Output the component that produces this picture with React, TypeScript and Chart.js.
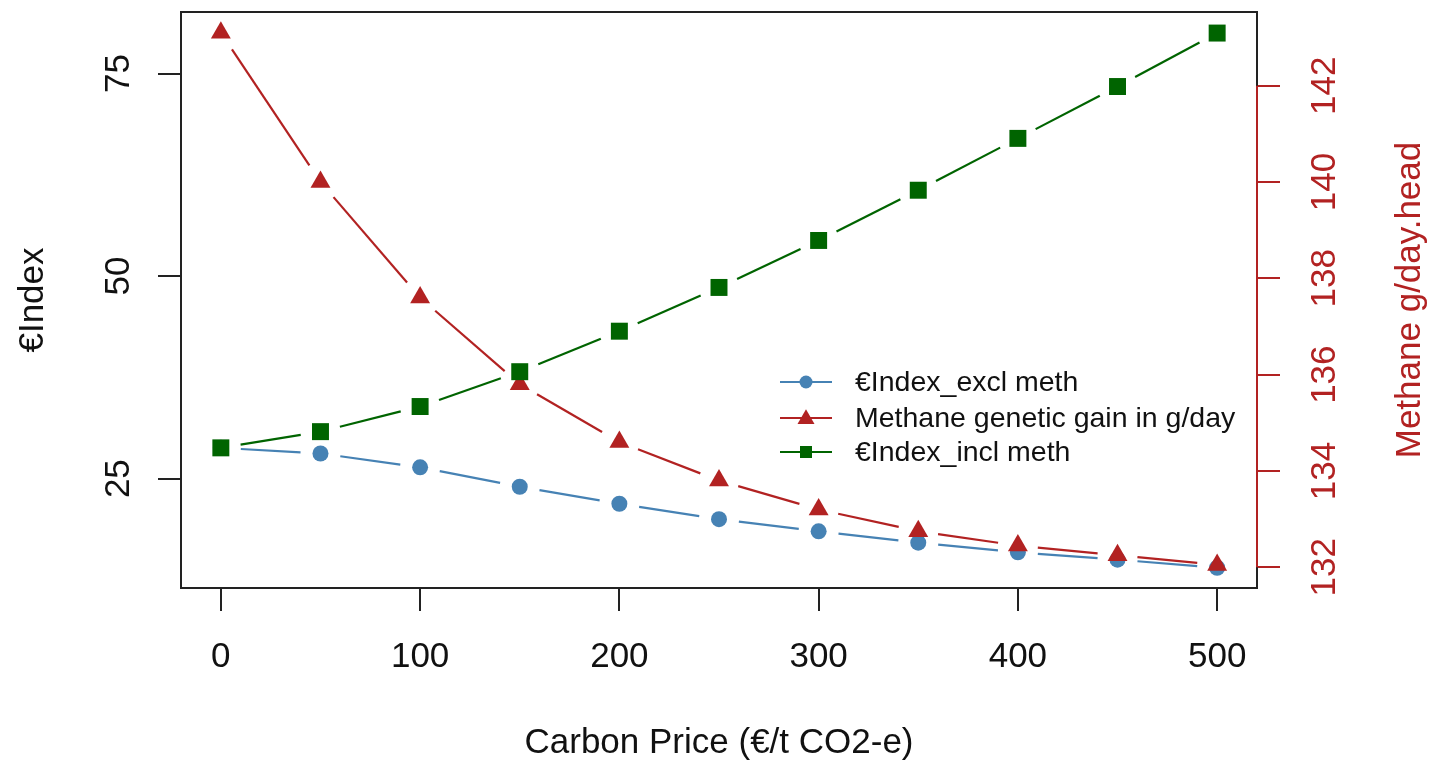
import React, { useEffect, useRef } from "react";
import { Chart, registerables } from "chart.js";

Chart.register(...registerables);

// ---- data ----
const carbonPrice = [0, 50, 100, 150, 200, 250, 300, 350, 400, 450, 500];
const indexExclMeth = [28.8, 28.1, 26.4, 24.0, 21.9, 20.0, 18.5, 17.1, 15.9, 15.0, 14.0];
const methaneGain = [143.1, 140.0, 137.6, 135.8, 134.6, 133.8, 133.2, 132.75, 132.45, 132.25, 132.05];
const indexInclMeth = [28.8, 30.8, 33.9, 38.2, 43.2, 48.6, 54.4, 60.6, 67.0, 73.4, 80.0];

const xTicks = [0, 100, 200, 300, 400, 500];
const leftTicks = [25, 50, 75];
const rightTicks = [132, 134, 136, 138, 140, 142];

const seriesLabels = ["€Index_excl meth", "Methane genetic gain in g/day", "€Index_incl meth"];
const xTitle = "Carbon Price (€/t CO2-e)";
const leftTitle = "€Index";
const rightTitle = "Methane g/day.head";

// ---- style ----
const FONT = "'Liberation Sans', Arial, sans-serif";
const BLUE = "#4682B4";
const RED = "#B22222";
const GREEN = "#006400";
const GAP = 20;

const gapDash = (ctx: any) => {
  const p0 = ctx.p0, p1 = ctx.p1;
  const L = Math.hypot(p1.x - p0.x, p1.y - p0.y);
  if (!isFinite(L)) return [];
  const seg = Math.max(L - 2 * GAP, 0);
  return [0, GAP, seg, L + 1000 + ctx.p0DataIndex * 0.001];
};

const pairs = (ys: number[]) => carbonPrice.map((x, i) => ({ x, y: ys[i] }));

function drawMarker(ctx: CanvasRenderingContext2D, style: string, x: number, y: number, s: number, color: string) {
  ctx.save();
  ctx.fillStyle = color;
  ctx.beginPath();
  if (style === "circle") {
    ctx.arc(x, y, s / 2, 0, Math.PI * 2);
  } else if (style === "rect") {
    ctx.rect(x - s / 2, y - s / 2, s, s);
  } else {
    const h = s * 0.866;
    ctx.moveTo(x, y - h * 0.6);
    ctx.lineTo(x + s / 2, y + h * 0.4);
    ctx.lineTo(x - s / 2, y + h * 0.4);
    ctx.closePath();
  }
  ctx.fill();
  ctx.restore();
}

const framePlugin = {
  id: "framePlugin",
  afterDraw(chart: any) {
    const { ctx, chartArea } = chart;
    const { left, right, top, bottom } = chartArea;
    ctx.save();
    ctx.strokeStyle = "#222";
    ctx.lineWidth = 2;
    ctx.strokeRect(left, top, right - left, bottom - top);
    const yR = chart.scales.y2;
    ctx.strokeStyle = RED;
    ctx.beginPath();
    ctx.moveTo(right, yR.getPixelForValue(rightTicks[0]));
    ctx.lineTo(right, yR.getPixelForValue(rightTicks[rightTicks.length - 1]));
    ctx.stroke();

    ctx.save();
    ctx.translate(1410, (top + bottom) / 2);
    ctx.rotate(-Math.PI / 2);
    ctx.fillStyle = RED;
    ctx.font = `35px ${FONT}`;
    ctx.textAlign = "center";
    ctx.textBaseline = "middle";
    ctx.fillText(rightTitle, 0, 0);
    ctx.restore();

    const styles = ["circle", "triangle", "rect"];
    const colors = [BLUE, RED, GREEN];
    const sizes = [13, 17, 12];
    const rowY = [382, 418, 452];
    ctx.font = `28.5px ${FONT}`;
    ctx.textBaseline = "middle";
    ctx.textAlign = "left";
    for (let i = 0; i < 3; i++) {
      ctx.strokeStyle = colors[i];
      ctx.lineWidth = 2;
      ctx.beginPath();
      ctx.moveTo(780, rowY[i]);
      ctx.lineTo(832, rowY[i]);
      ctx.stroke();
      drawMarker(ctx, styles[i], 806, rowY[i], sizes[i], colors[i]);
      ctx.fillStyle = "#111";
      ctx.fillText(chart.data.datasets[i].label, 855, rowY[i] + 1);
    }
    ctx.restore();
  },
};

const noPadV = (s: any) => {
  s.paddingTop = 0;
  s.paddingBottom = 0;
};

export default function App() {
  const ref = useRef<HTMLCanvasElement | null>(null);

  useEffect(() => {
    if (!ref.current) return;
    const tickFont = { family: FONT, size: 35 };
    const chart = new Chart(ref.current, {
      type: "line",
      data: {
        datasets: [
          {
            label: seriesLabels[0],
            data: pairs(indexExclMeth),
            yAxisID: "y",
            borderColor: BLUE,
            backgroundColor: BLUE,
            borderWidth: 2.2,
            pointStyle: "circle",
            pointRadius: 8,
            pointBorderWidth: 0,
            order: 3,
            segment: { borderDash: gapDash },
          },
          {
            label: seriesLabels[1],
            data: pairs(methaneGain),
            yAxisID: "y2",
            borderColor: RED,
            backgroundColor: RED,
            borderWidth: 2.2,
            pointStyle: "triangle",
            pointRadius: 11.5,
            pointBorderWidth: 0,
            order: 2,
            segment: { borderDash: gapDash },
          },
          {
            label: seriesLabels[2],
            data: pairs(indexInclMeth),
            yAxisID: "y",
            borderColor: GREEN,
            backgroundColor: GREEN,
            borderWidth: 2.2,
            pointStyle: "rect",
            pointRadius: 12,
            pointBorderWidth: 0,
            order: 1,
            segment: { borderDash: gapDash },
          },
        ],
      },
      options: {
        animation: false,
        responsive: false,
        layout: { padding: { top: 10, left: 0, right: 0, bottom: 0 } },
        plugins: { legend: { display: false }, tooltip: { enabled: false } },
        elements: { line: { tension: 0 } },
        scales: {
          x: {
            type: "linear",
            position: "bottom",
            min: -20,
            max: 520,
            afterBuildTicks: (s: any) => {
              s.ticks = xTicks.map((v) => ({ value: v }));
            },
            afterFit: (s: any) => {
              s.height = 174;
              s.paddingLeft = 0;
              s.paddingRight = 0;
            },
            grid: { drawOnChartArea: false, drawTicks: true, tickLength: 23, color: "#222", lineWidth: 2 },
            border: { display: false },
            ticks: { font: tickFont, color: "#111", padding: 25, maxRotation: 0, minRotation: 0 },
            title: { display: true, text: xTitle, font: { family: FONT, size: 35 }, color: "#111", padding: { top: 0, bottom: -2 } },
          },
          y: {
            type: "linear",
            position: "left",
            min: 11.5,
            max: 82.6,
            afterBuildTicks: (s: any) => {
              s.ticks = leftTicks.map((v) => ({ value: v }));
            },
            afterFit: (s: any) => {
              s.width = 181;
              noPadV(s);
            },
            grid: { drawOnChartArea: false, drawTicks: true, tickLength: 23, color: "#222", lineWidth: 2 },
            border: { display: false },
            ticks: { font: tickFont, color: "#111", padding: 19, minRotation: 90, maxRotation: 90, crossAlign: "center" },
            title: { display: true, text: leftTitle, font: { family: FONT, size: 35 }, color: "#111", padding: { top: 12, bottom: 0 } },
          },
          y2: {
            type: "linear",
            position: "right",
            min: 131.57,
            max: 143.53,
            afterBuildTicks: (s: any) => {
              s.ticks = rightTicks.map((v) => ({ value: v }));
            },
            afterFit: (s: any) => {
              s.width = 177;
              noPadV(s);
            },
            grid: { drawOnChartArea: false, drawTicks: true, tickLength: 23, color: RED, lineWidth: 2 },
            border: { display: false },
            ticks: { font: tickFont, color: RED, padding: 16, minRotation: 90, maxRotation: 90, crossAlign: "center" },
            title: { display: false },
          },
        },
      },
      plugins: [framePlugin],
    } as any);
    return () => chart.destroy();
  }, []);

  return (
    <div style={{ position: "fixed", left: 0, top: 0, width: 1434, height: 762, background: "#fff" }}>
      <canvas ref={ref} width={1434} height={762} style={{ display: "block" }} />
    </div>
  );
}
